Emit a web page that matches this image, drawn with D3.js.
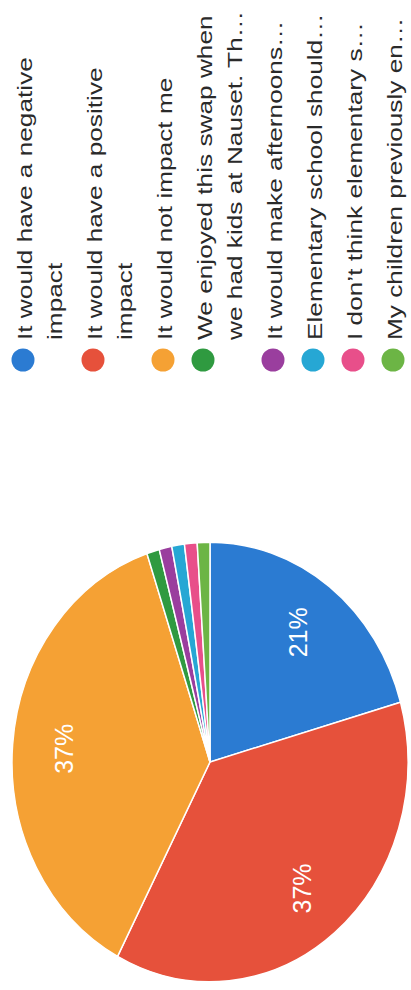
<!DOCTYPE html>
<html>
<head>
<meta charset="utf-8">
<script src="https://cdn.jsdelivr.net/npm/d3@7"></script>
<style>
  html, body { margin: 0; padding: 0; background: #ffffff; }
  svg { display: block; }
  text { font-family: "Liberation Sans", Arial, sans-serif; }
</style>
</head>
<body>
<svg id="chart" width="411" height="990"></svg>
<script>
// ---- data ----
const categories = [
  ["It would have a negative", "impact"],
  ["It would have a positive", "impact"],
  ["It would not impact me"],
  ["We enjoyed this swap when", "we had kids at Nauset. Th\u2026"],
  ["It would make afternoons\u2026"],
  ["Elementary school should\u2026"],
  ["I don\u2019t think elementary s\u2026"],
  ["My children previously en\u2026"]
];
const counts = [20, 36, 36, 1, 1, 1, 1, 1];
const colors = ["#2b7bd2", "#e6513b", "#f5a134", "#2f9a40", "#9a3e9e", "#26a7d4", "#e84f8a", "#6cb545"];

// ---- layout ----
const svg = d3.select("#chart");
const cx = 210, cy = 762, r = 198, yStretch = 1.11;

const total = d3.sum(counts);
const data = counts.map((v, i) => ({ v, i, label: categories[i] }));
const pie = d3.pie().value(d => d.v).sort(null).startAngle(0).endAngle(2 * Math.PI);
const arcs = pie(data);
const arc = d3.arc().innerRadius(0).outerRadius(r);
const labelArc = d3.arc().innerRadius(r * 0.74).outerRadius(r * 0.74);
const color = d3.scaleOrdinal().domain(d3.range(counts.length)).range(colors);

const pg = svg.append("g")
  .attr("transform", `translate(${cx},${cy}) scale(1,${yStretch})`);

pg.selectAll("path.slice")
  .data(arcs)
  .join("path")
  .attr("class", "slice")
  .attr("d", arc)
  .attr("fill", d => color(d.data.i))
  .attr("stroke", "#ffffff")
  .attr("stroke-width", 1.5)
  .attr("vector-effect", "non-scaling-stroke");

// percentage labels (only for large slices)
const pct = d3.format(".0%");
svg.append("g").selectAll("text.pct")
  .data(arcs.filter(d => d.data.v / total > 0.05))
  .join("text")
  .attr("class", "pct")
  .attr("transform", d => {
    const [x, y] = labelArc.centroid(d);
    return `translate(${cx + x},${cy + y * yStretch}) rotate(-90)`;
  })
  .attr("text-anchor", "middle")
  .attr("dominant-baseline", "central")
  .attr("fill", "#ffffff")
  .attr("font-size", 25)
  .text(d => pct(d.data.v / total));

// ---- legend (rotated) ----
const legendStartX = 32, lineStep = 30, itemGap = 10, textStartY = 340, circleY = 360;
const fontSize = 20.5, textStretch = 1.28;
let bx = legendStartX;
const lg = svg.append("g");
categories.forEach((lines, i) => {
  lg.append("circle")
    .attr("cx", bx - 9)
    .attr("cy", circleY)
    .attr("r", 11.5)
    .attr("fill", colors[i]);
  lines.forEach((ln, j) => {
    lg.append("text")
      .attr("transform", `translate(${bx + j * lineStep},${textStartY}) scale(1,${textStretch}) rotate(-90)`)
      .attr("font-size", fontSize)
      .attr("fill", "#2a2a2a")
      .text(ln);
  });
  bx += lines.length * lineStep + itemGap;
});
</script>
</body>
</html>
